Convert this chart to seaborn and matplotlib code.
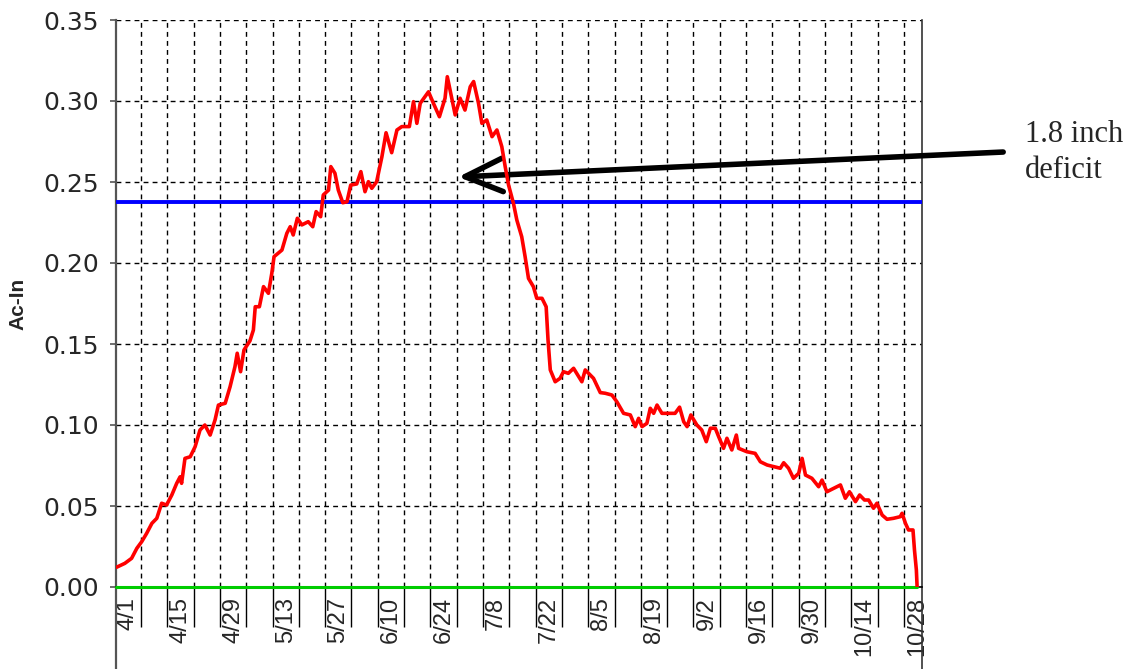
import matplotlib
matplotlib.use("Agg")
import matplotlib.pyplot as plt
import seaborn as sns
import pandas as pd
from matplotlib.ticker import FixedLocator

# Days counted from 4/1 (day 0)
day_offset = [-3.0, -0.8, 1.0, 2.4, 3.7, 5.0, 6.4, 7.7, 9.0, 10.3, 11.7, 13.0, 13.9, 14.3,
              15.2, 16.6, 17.9, 19.2, 20.5, 21.9, 23.2, 24.1, 25.9, 27.2, 28.5, 29.1, 30.0,
              30.9, 32.5, 33.4, 33.9, 35.0, 36.1, 37.4, 38.3, 38.9, 41.0, 42.3, 43.2, 44.0,
              45.1, 46.3, 48.0, 49.2, 50.1, 51.3, 52.0, 53.4, 54.0, 55.1, 56.0, 57.2, 58.3,
              59.3, 60.9, 62.0, 63.1, 64.0, 64.9, 66.2, 67.6, 68.7, 70.2, 71.6, 72.9, 74.9,
              76.0, 76.9, 77.8, 80.0, 81.3, 82.9, 84.4, 85.0, 87.1, 88.4, 89.7, 91.1, 92.0,
              93.3, 94.2, 95.5, 96.9, 98.2, 99.5, 100.4, 101.3, 102.6, 103.5, 104.8, 105.7,
              106.6, 107.9, 108.8, 110.2, 111.3, 111.8, 112.4, 113.7, 115.0, 115.9, 117.2,
              118.6, 120.8, 121.7, 123.9, 125.7, 127.0, 128.8, 130.1, 131.9, 133.7, 135.0,
              135.9, 136.8, 138.1, 139.0, 139.9, 140.8, 142.1, 143.9, 145.6, 146.8, 147.9,
              148.8, 149.8, 151.4, 152.7, 153.9, 155.0, 156.3, 157.2, 158.5, 159.4, 160.7,
              161.9, 162.5, 164.7, 166.9, 168.3, 170.1, 171.8, 173.6, 174.5, 175.8, 177.1,
              178.5, 179.4, 180.3, 182.0, 183.8, 184.7, 186.0, 187.8, 189.6, 190.9, 192.0,
              193.6, 194.7, 196.0, 197.1, 198.4, 199.3, 200.7, 202.0, 203.7, 205.5, 206.0,
              206.9, 207.7, 208.9, 209.3, 209.8, 210.0]
ac_in = [0.0122, 0.0146, 0.0177, 0.0239, 0.0280, 0.0331, 0.0393, 0.0424, 0.0517, 0.0506,
         0.0568, 0.0640, 0.0680, 0.0640, 0.0794, 0.0804, 0.0866, 0.0969, 0.1000, 0.0938,
         0.1031, 0.1123, 0.1134, 0.1236, 0.1360, 0.1443, 0.1329, 0.1463, 0.1520, 0.1586,
         0.1730, 0.1730, 0.1854, 0.1813, 0.1936, 0.2039, 0.2080, 0.2183, 0.2224, 0.2173,
         0.2276, 0.2235, 0.2255, 0.2224, 0.2317, 0.2286, 0.2420, 0.2450, 0.2595, 0.2554,
         0.2450, 0.2372, 0.2378, 0.2481, 0.2488, 0.2564, 0.2440, 0.2502, 0.2461, 0.2502,
         0.2656, 0.2804, 0.2681, 0.2821, 0.2842, 0.2842, 0.2996, 0.2862, 0.2986, 0.3057,
         0.2986, 0.2903, 0.3017, 0.3150, 0.2914, 0.3017, 0.2944, 0.3088, 0.3120, 0.2986,
         0.2862, 0.2883, 0.2780, 0.2821, 0.2718, 0.2595, 0.2481, 0.2368, 0.2265, 0.2162,
         0.2039, 0.1905, 0.1854, 0.1782, 0.1782, 0.1730, 0.1525, 0.1340, 0.1267, 0.1288,
         0.1329, 0.1319, 0.1350, 0.1267, 0.1340, 0.1288, 0.1200, 0.1196, 0.1185, 0.1144,
         0.1072, 0.1062, 0.0990, 0.1041, 0.0990, 0.1010, 0.1103, 0.1072, 0.1123, 0.1072,
         0.1072, 0.1072, 0.1110, 0.1020, 0.0990, 0.1062, 0.1000, 0.0969, 0.0897, 0.0980,
         0.0980, 0.0928, 0.0856, 0.0918, 0.0846, 0.0938, 0.0856, 0.0835, 0.0825, 0.0773,
         0.0753, 0.0743, 0.0733, 0.0767, 0.0733, 0.0671, 0.0702, 0.0794, 0.0691, 0.0671,
         0.0619, 0.0660, 0.0588, 0.0609, 0.0630, 0.0548, 0.0588, 0.0527, 0.0568, 0.0537,
         0.0537, 0.0486, 0.0517, 0.0444, 0.0418, 0.0424, 0.0434, 0.0455, 0.0393, 0.0352,
         0.0352, 0.0228, 0.0105, 0.0]

tick_days = [0, 14, 28, 42, 56, 70, 84, 98, 112, 126, 140, 154, 168, 182, 196, 210]
tick_labels = ["4/1", "4/15", "4/29", "5/13", "5/27", "6/10", "6/24", "7/8", "7/22",
               "8/5", "8/19", "9/2", "9/16", "9/30", "10/14", "10/28"]
grid_days = [3.5 + 7 * k for k in range(30)]
y_ticks = [0.00, 0.05, 0.10, 0.15, 0.20, 0.25, 0.30, 0.35]
threshold = 0.2375
annotation_text = "1.8 inch\ndeficit"
arrow_tip = (87.9, 0.2531)
arrow_tail = (232.9, 0.2685)

sns.set_style("white")
plt.rcParams['font.family'] = ['DejaVu Sans']

fig = plt.figure(figsize=(11.33, 6.69), dpi=100)
ax = fig.add_axes([116 / 1133, 1 - 587 / 669, 806 / 1133, 567 / 669])

df = pd.DataFrame({"day": day_offset, "Ac-In": ac_in})
sns.lineplot(data=df, x="day", y="Ac-In", ax=ax, color="#ff0000", lw=2.6,
             estimator=None, sort=False, zorder=6)
ax.axhline(threshold, color="#0000ff", lw=2.8, zorder=5)
ax.plot([-3.15, day_offset[-1]], [0, 0], color="#00cc00", lw=2.2, zorder=5, clip_on=False)

ax.set_xlim(-3.15, 211.3)
ax.set_ylim(0, 0.35)

ax.set_xticks(tick_days)
ax.set_xticklabels(tick_labels, rotation=90, fontfamily="Liberation Sans", fontsize=17)
ax.xaxis.set_minor_locator(FixedLocator(grid_days))
ax.tick_params(axis="x", which="major", length=0, pad=7, bottom=True)
ax.tick_params(axis="x", which="minor", length=29, width=1.0, color="black",
               direction="out", bottom=True)

ax.set_yticks(y_ticks)
ax.set_yticklabels([f"{v:.2f}" for v in y_ticks], fontsize=18)
ax.tick_params(axis="y", which="major", length=4.3, width=1.2, color="#555555", pad=8,
               direction="out", left=True)

ax.grid(False)
ax.grid(True, which="minor", axis="x", color="#000000", ls=(0, (3.5, 3)), lw=1.0)
ax.grid(True, which="major", axis="y", color="#000000", ls=(0, (3.5, 3)), lw=1.0)
ax.set_axisbelow(True)

ax.spines["top"].set_visible(False)
for side, col, w in [("left", "#555555", 1.6), ("right", "#333333", 1.2)]:
    ax.spines[side].set_visible(True)
    ax.spines[side].set_color(col)
    ax.spines[side].set_linewidth(w)
    ax.spines[side].set_bounds(-0.06, 0.35)
ax.spines["bottom"].set_color("black")
ax.spines["bottom"].set_linewidth(1.2)

ax.set_xlabel("")
ax.set_ylabel("Ac-In", fontsize=15, fontweight="bold", fontfamily="Liberation Sans")
ax.yaxis.set_label_coords((27 - 116) / 806, 0.5)

ax.annotate("", xy=arrow_tip, xytext=arrow_tail, annotation_clip=False,
            arrowprops=dict(arrowstyle="->,head_length=1.35,head_width=0.6", lw=4,
                            color="black", shrinkA=0, shrinkB=0, mutation_scale=20))
fig.text(1025 / 1133, 1 - 120 / 669, annotation_text, fontfamily="Liberation Serif",
         fontsize=22, va="top", ha="left", linespacing=1.3)

fig.savefig("out.png", dpi=100)
